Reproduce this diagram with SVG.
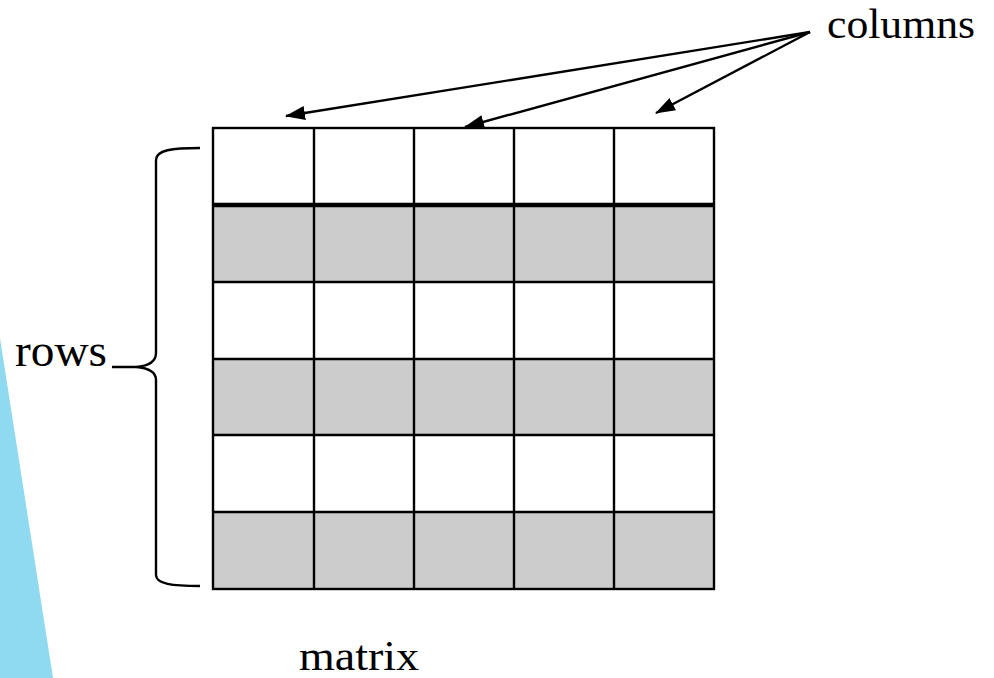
<svg xmlns="http://www.w3.org/2000/svg" width="994" height="678" viewBox="0 0 994 678">
  <style>
    .label { font-family: "Liberation Serif", "Times New Roman", serif; fill: #000; }
    .cell-grey { fill: #cccccc; }
    .grid { stroke: #000; stroke-width: 2.4; fill: none; }
    .conn { stroke: #000; stroke-width: 2.4; fill: none; }
  </style>
  <defs>
    <marker id="arrow" viewBox="0 0 20 14" refX="19" refY="7" markerWidth="20" markerHeight="14" markerUnits="userSpaceOnUse" orient="auto">
      <path d="M0,0 L20,7 L0,14 Z" fill="#000"/>
    </marker>
  </defs>

  <rect width="994" height="678" fill="#fff"/>

  <!-- blue accent wedge at left edge -->
  <polygon points="0,338 53,678 0,678" fill="#8fdaf1"/>

  <!-- matrix grid -->
  <g id="matrix">
    <rect class="cell-grey" x="213" y="205" width="501" height="77"/>
    <rect class="cell-grey" x="213" y="359" width="501" height="76"/>
    <rect class="cell-grey" x="213" y="512" width="501" height="77"/>
    <g class="grid">
      <rect x="213" y="128" width="501" height="461"/>
      <line x1="213" y1="282" x2="714" y2="282"/>
      <line x1="213" y1="359" x2="714" y2="359"/>
      <line x1="213" y1="435" x2="714" y2="435"/>
      <line x1="213" y1="512" x2="714" y2="512"/>
      <line x1="314" y1="128" x2="314" y2="589"/>
      <line x1="414" y1="128" x2="414" y2="589"/>
      <line x1="514" y1="128" x2="514" y2="589"/>
      <line x1="614" y1="128" x2="614" y2="589"/>
    </g>
    <line x1="213" y1="205" x2="714" y2="205" stroke="#000" stroke-width="4.5"/>
  </g>

  <!-- row brace -->
  <g id="rows">
    <path class="grid" d="M200,148 C172,148 156,150 156,160 L156,353 C156,362 148,366 136,367 L112,367 M136,367 C148,368 156,372 156,380 L156,575 C156,584 172,586 200,586"/>
    <text class="label" x="15" y="366" font-size="46" textLength="92" lengthAdjust="spacingAndGlyphs">rows</text>
  </g>

  <g id="columns">
    <text class="label" x="827" y="38" font-size="42" textLength="148" lengthAdjust="spacingAndGlyphs">columns</text>
  </g>

  <g id="matrix-label">
    <text class="label" x="299" y="670" font-size="42" textLength="120" lengthAdjust="spacingAndGlyphs">matrix</text>
  </g>

  <!-- pointers from the columns label -->
  <g id="connectors">
    <line class="conn" x1="810" y1="32" x2="286" y2="116" marker-end="url(#arrow)"/>
    <line class="conn" x1="810" y1="32" x2="465" y2="127" marker-end="url(#arrow)"/>
    <line class="conn" x1="810" y1="32" x2="656" y2="113" marker-end="url(#arrow)"/>
  </g>
</svg>
